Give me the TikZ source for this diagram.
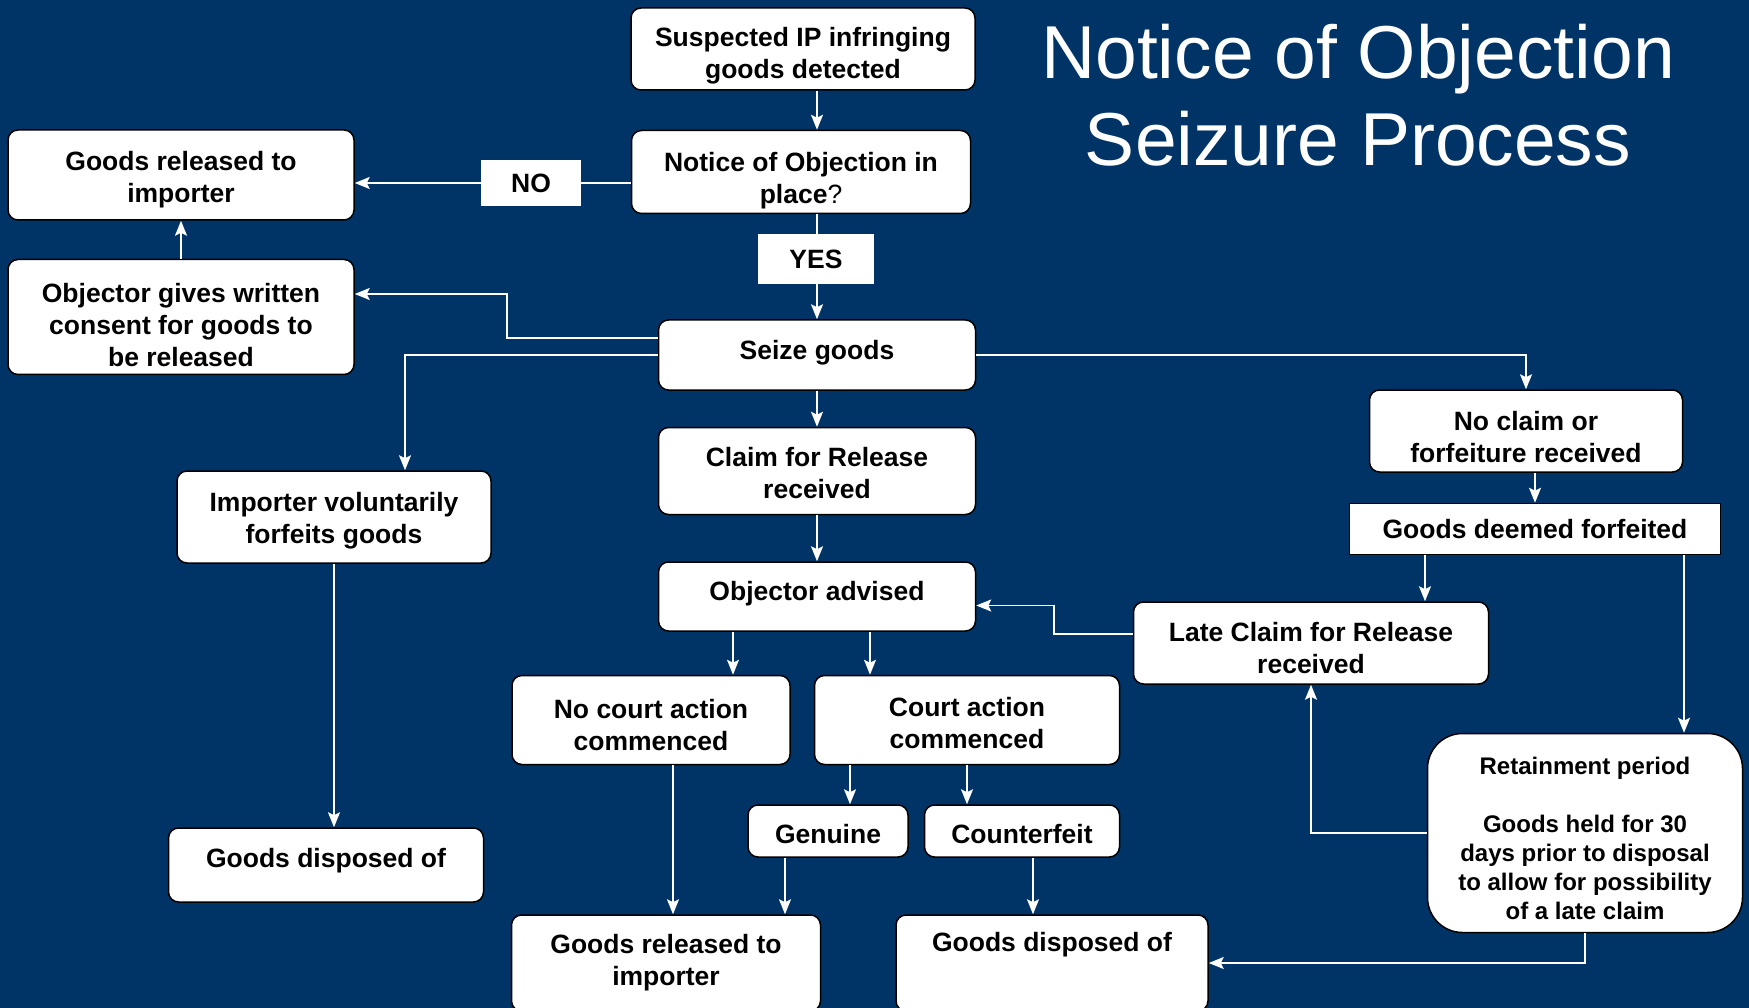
\documentclass[tikz,border=0pt]{standalone}
\usepackage{fontspec}
\setmainfont{Liberation Sans}
\usetikzlibrary{arrows.meta,positioning}
\definecolor{navy}{RGB}{0,51,102}
% taller first line, pushes the text down a little
\newcommand\topgap[1]{\rule{0pt}{#1}}
\tikzset{
    %Define standard arrow tip
    >={Stealth[length=15pt,width=12pt,inset=3pt]},
    %Define style for boxes
    box/.style={
           rectangle,
           rounded corners=10pt,
           draw=black, line width=1.5pt,
           fill=white,
           inner sep=0pt,
           align=center,
           font=\fontsize{26.5}{32}\selectfont\bfseries},
    sqbox/.style={
           box,
           rounded corners=0pt},
    lbl/.style={
           rectangle,
           fill=white,
           inner sep=0pt,
           font=\fontsize{26.5}{32}\selectfont\bfseries},
    title/.style={
           text=white,
           anchor=base,
           font=\fontsize{75}{87}\selectfont},
    % Define arrow style
    arr/.style={
           ->,
           draw=white,
           line width=1.8pt},
    plain/.style={
           draw=white,
           line width=1.8pt}
}
\begin{document}
\begin{tikzpicture}[x=1pt,y=-1pt]
  \useasboundingbox (0,0) rectangle (1749,1008);
  \clip (0,0) rectangle (1749,1008);
  \fill[navy] (0,0) rectangle (1749,1008);
  \begin{scope}
  % title
  \node[title] (title1) at (1358,79) {Notice of Objection};
  \node[title] (title2) at (1358,166) {Seizure Process};
  % main column
  \node[box, minimum width=344pt, minimum height=82pt] (susp) at (803,49) {\topgap{33pt}Suspected IP infringing\\goods detected};
  \node[box, minimum width=339pt, minimum height=83pt] (notice) at (801,172) {\topgap{36pt}Notice of Objection in\\place{\mdseries ?}};
  \node[box, minimum width=317pt, minimum height=70pt, text depth=10pt] (seize) at (817,355) {Seize goods};
  \node[box, minimum width=317pt, minimum height=87pt, below=36pt of seize] (claim) {\topgap{24pt}Claim for Release\\received};
  \node[box, minimum width=317pt, minimum height=69pt, below=46pt of claim, text depth=12pt] (advised) {Objector advised};
  \node[lbl, minimum width=100pt, minimum height=46pt] (nolbl) at (531,183) {NO};
  \node[lbl, minimum width=116pt, minimum height=50pt] (yeslbl) at (816,259) {YES};
  % left side
  \node[box, minimum width=346pt, minimum height=90pt] (reltop) at (181,175) {\topgap{29.5pt}Goods released to\\importer};
  \node[box, minimum width=346pt, minimum height=115pt] (consent) at (181,317) {\topgap{35pt}Objector gives written\\consent for goods to\\be released};
  \node[box, minimum width=314pt, minimum height=92pt] (volunt) at (334,517) {\topgap{27.5pt}Importer voluntarily\\forfeits goods};
  \node[box, minimum width=315pt, minimum height=74pt, text depth=14.5pt] (displ) at (326,865) {Goods disposed of};
  % court
  \node[box, minimum width=278pt, minimum height=89pt] (nocourt) at (651,720) {\topgap{28.5pt}No court action\\commenced};
  \node[box, minimum width=305pt, minimum height=89pt] (court) at (967,720) {\topgap{26pt}Court action\\commenced};
  \node[box, minimum width=160pt, minimum height=52pt] (genuine) at (828,831) {\topgap{26pt}Genuine};
  \node[box, minimum width=195pt, minimum height=52pt] (counter) at (1022,831) {\topgap{26pt}Counterfeit};
  \node[box, minimum width=309pt, minimum height=96pt] (relbot) at (666,963) {Goods released to\\importer};
  \node[box, minimum width=312pt, minimum height=96pt] (dispb) at (1052,963) {Goods disposed of\\\strut};
  % right side
  \node[box, minimum width=313pt, minimum height=82pt] (noclaim) at (1526,431) {\topgap{30.5pt}No claim or\\forfeiture received};
  \node[sqbox, minimum width=371pt, minimum height=51pt] (deemed) at (1535,529) {Goods deemed forfeited};
  \node[box, minimum width=355pt, minimum height=82pt] (late) at (1311,643) {\topgap{29.5pt}Late Claim for Release\\received};
  \node[box, rounded corners=35pt, minimum width=315pt, minimum height=199pt,
        font=\fontsize{24}{29}\selectfont\bfseries] (retain) at (1585,833)
        {\topgap{28.5pt}Retainment period\\[29pt]Goods held for 30\\days prior to disposal\\to allow for possibility\\of a late claim};
  % connectors
  \draw[arr] (susp.south -| seize) -- (notice.north -| seize);
  \draw[plain] (notice.west |- nolbl) -- (nolbl.east);
  \draw[arr] (nolbl.west) -- (reltop.east |- nolbl);
  \draw[plain] (notice.south -| seize) -- (yeslbl.north -| seize);
  \draw[arr] (yeslbl.south -| seize) -- (seize.north);
  \draw[arr] ([yshift=17pt]seize.west) -- ++(-151,0) |- ([yshift=23pt]consent.east);
  \draw[arr] (consent.north) -- (reltop.south);
  \draw[arr] (seize.west) -| ([xshift=71pt]volunt.north);
  \draw[arr] (seize.east) -| (noclaim.north);
  \draw[arr] (seize.south) -- (claim.north);
  \draw[arr] (claim.south) -- (advised.north);
  \draw[arr] (volunt.south) -- (volunt.south |- displ.north);
  \draw[arr] ([xshift=-84pt]advised.south) -- ([xshift=-84pt]advised.south |- nocourt.north);
  \draw[arr] ([xshift=53pt]advised.south) -- ([xshift=53pt]advised.south |- court.north);
  \draw[arr] ([xshift=22pt]nocourt.south) -- ([xshift=22pt]nocourt.south |- relbot.north);
  \draw[arr] ([xshift=-117pt]court.south) -- ([xshift=-117pt]court.south |- genuine.north);
  \draw[arr] (court.south) -- (court.south |- counter.north);
  \draw[arr] ([xshift=-43pt]genuine.south) -- ([xshift=-43pt]genuine.south |- relbot.north);
  \draw[arr] ([xshift=11pt]counter.south) -- ([xshift=11pt]counter.south |- dispb.north);
  \draw[arr] (noclaim.south -| deemed) -- (deemed.north);
  \draw[arr] ([xshift=-110pt]deemed.south) -- ([xshift=-110pt]deemed.south |- late.north);
  \draw[arr] ([xshift=149pt]deemed.south) -- ([xshift=149pt]deemed.south |- retain.north);
  \draw[arr] ([yshift=9pt]late.west) -- ++(-79,0) |- ([yshift=-9pt]advised.east);
  \draw[arr] (retain.west) -| (late.south);
  \draw[arr] (retain.south) |- (dispb.east);
  \end{scope}
\end{tikzpicture}
\end{document}
